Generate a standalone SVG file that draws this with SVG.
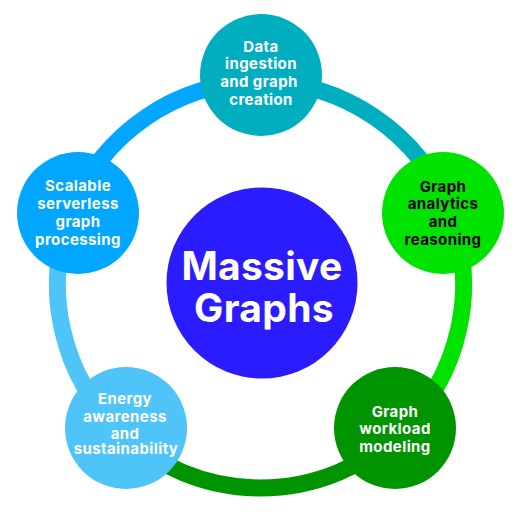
<svg xmlns="http://www.w3.org/2000/svg" width="516" height="517" viewBox="0 0 516 517">
<style>
.arc{fill:none;stroke-width:17}
.t{font-family:Inter,"Open Sans","DejaVu Sans",sans-serif;font-weight:700;font-size:15px;letter-spacing:0.4px;text-anchor:middle;fill:#fff}
.k{fill:#000}
.c{font-family:Inter,"Open Sans","DejaVu Sans",sans-serif;font-weight:700;font-size:39px;letter-spacing:0.3px;text-anchor:middle;fill:#fff}
</style>
<rect width="516" height="517" fill="#fff"/>
<g id="connectors">
<path class="arc" stroke="#00AEC0" d="M260.5,82 A203,203 0 0 1 449.4,210.6"/>
<path class="arc" stroke="#00E200" d="M449.4,210.6 A203,203 0 0 1 399.7,432.7"/>
<path class="arc" stroke="#009400" d="M399.7,432.7 A203,203 0 0 1 121.3,432.7"/>
<path class="arc" stroke="#4FC4F8" d="M121.3,432.7 A203,203 0 0 1 71.6,210.6"/>
<path class="arc" stroke="#00A6FF" d="M71.6,210.6 A203,203 0 0 1 260.5,82"/>
</g>
<g id="center">
<circle cx="262" cy="283" r="95.5" fill="#2B1BFF"/>
<text class="c" x="262" y="280">Massive</text>
<text class="c" x="264" y="322">Graphs</text>
</g>
<g id="node-data">
<circle cx="261" cy="75" r="61" fill="#00AEC0"/>
<text class="t" x="261" y="52">Data</text>
<text class="t" x="261" y="69">ingestion</text>
<text class="t" x="259" y="87">and graph</text>
<text class="t" x="261" y="105">creation</text>
</g>
<g id="node-analytics">
<circle cx="443" cy="213" r="61" fill="#00E200"/>
<text class="t k" x="443" y="192">Graph</text>
<text class="t k" x="443" y="209">analytics</text>
<text class="t k" x="443" y="227">and</text>
<text class="t k" x="443" y="245">reasoning</text>
</g>
<g id="node-workload">
<circle cx="395" cy="428" r="61" fill="#009400"/>
<text class="t" x="395" y="417">Graph</text>
<text class="t" x="395" y="434">workload</text>
<text class="t" x="395" y="452">modeling</text>
</g>
<g id="node-energy">
<circle cx="126" cy="428" r="61" fill="#4FC4F8"/>
<text class="t" x="125" y="404">Energy</text>
<text class="t" x="125" y="422">awareness</text>
<text class="t" x="125" y="439">and</text>
<text class="t" x="126" y="454">sustainability</text>
</g>
<g id="node-scalable">
<circle cx="78" cy="213" r="61" fill="#00A6FF"/>
<text class="t" x="78" y="191">Scalable</text>
<text class="t" x="78" y="209">serverless</text>
<text class="t" x="78" y="227">graph</text>
<text class="t" x="78" y="245">processing</text>
</g>
</svg>
